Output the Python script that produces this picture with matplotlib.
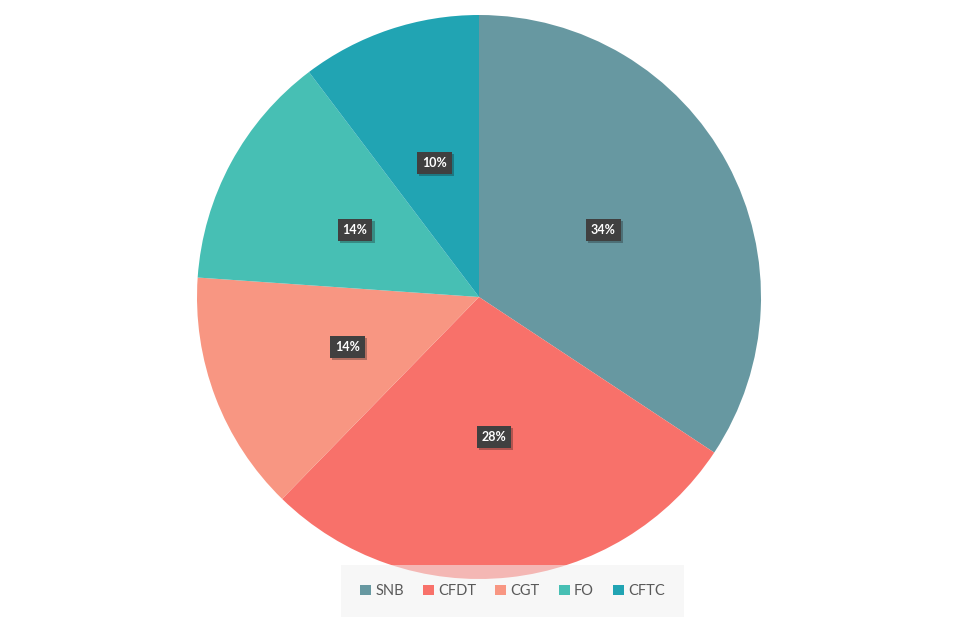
import matplotlib.pyplot as plt
import matplotlib.patheffects as pe
from matplotlib.patches import Patch

# data
labels = ['SNB', 'CFDT', 'CGT', 'FO', 'CFTC']
values = [34.3, 28.0, 13.8, 13.6, 10.3]
colors = ['#6798A1', '#F8716A', '#F89682', '#47BFB4', '#21A4B3']

plt.rcParams['font.family'] = ['Lato', 'DejaVu Sans']

fig = plt.figure(figsize=(9.58, 6.3), dpi=100)
ax = fig.add_axes([0, 0, 1, 1])

wedges, texts, autotexts = ax.pie(values, colors=colors, startangle=90, counterclock=False,
                                  center=(479, 333), radius=282, autopct='%1.0f%%',
                                  pctdistance=0.5, wedgeprops=dict(linewidth=0),
                                  textprops=dict(color='white', fontsize=9, fontweight='bold'))
ax.set_xlim(0, 958)
ax.set_ylim(0, 630)
ax.set_aspect('equal')
ax.axis('off')

for t in autotexts:
    t.set_bbox(dict(boxstyle='square,pad=0.4', facecolor='#404040', edgecolor='none'))
    t.get_bbox_patch().set_path_effects([pe.SimplePatchShadow(offset=(1.5, -1.5), alpha=0.3),
                                         pe.Normal()])

handles = [Patch(facecolor=c, edgecolor='none') for c in colors]
leg = fig.legend(handles, labels, loc='center', bbox_to_anchor=(0.535, 0.062), ncol=5,
                 frameon=True, fancybox=False, fontsize=10.5, handlelength=0.75,
                 handleheight=0.75, handletextpad=0.3, columnspacing=1.3,
                 borderpad=1.3, borderaxespad=0)
leg.get_frame().set_facecolor('#F2F2F2')
leg.get_frame().set_edgecolor('none')
leg.get_frame().set_alpha(0.55)
for t in leg.get_texts():
    t.set_color('#595959')

fig.savefig('out.png', dpi=100)
